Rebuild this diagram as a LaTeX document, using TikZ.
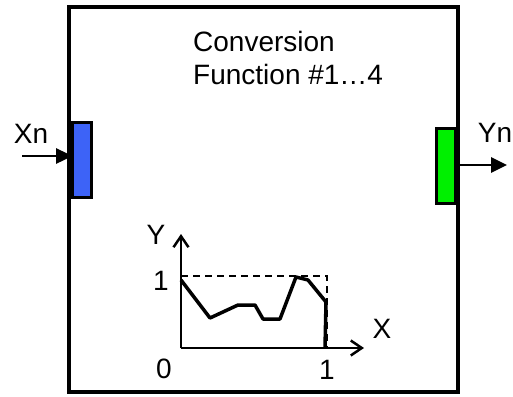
\documentclass[tikz,border=0pt]{standalone}
\usepackage{fontspec}
\setmainfont{Liberation Sans}
\usetikzlibrary{arrows.meta,positioning}
\definecolor{portblue}{HTML}{3D63F7}
\definecolor{portgreen}{HTML}{00F000}

\begin{document}
\begin{tikzpicture}[
  x=1pt,y=-1pt,
  font=\fontsize{28}{33}\selectfont,
  port/.style={draw,line width=3.3pt,minimum width=19pt,minimum height=75pt,inner sep=0pt,outer sep=0pt},
  arr/.style={-{Triangle[length=16pt,width=15pt]},line width=2.7pt},
  axis/.style={-{Straight Barb[length=11pt,width=15pt]},line width=2.5pt},
  lbl/.style={inner sep=0pt}
]
\useasboundingbox (0,0) rectangle (513,396);
\node[draw,line width=3.3pt,minimum width=389pt,minimum height=385pt,inner sep=0pt,outer sep=0pt] (block) at (263.5,199.5) {};
\node[lbl,align=left,anchor=north west] (title) at (193,31.5) {Conversion\\Function \#1\ldots4};
\node[port,fill=portblue] (inport) at (81.7,159.8) {};
\node[port,fill=portgreen] (outport) at (446.2,165.8) {};
\coordinate (xin) at (22,156);
\coordinate (yout) at (507,165);
\node[lbl] (xn) at (31,134) {Xn};
\node[lbl] (yn) at (495,133) {Yn};
\draw[arr] (xin) -- (xin -| inport.west);
\draw[arr] (outport.east |- yout) -- (yout);
% transfer curve
\coordinate (o) at (181,348);
\coordinate (ytip) at (181,234);
\coordinate (xtip) at (364,348);
\draw[axis] (o) -- (ytip);
\draw[axis] (o) -- (xtip);
\node[lbl] (ylab) at (156,235) {Y};
\node[lbl] (xlab) at (382,329) {X};
\node[lbl] (yone) at (161,281) {1};
\node[lbl] (zero) at (164,369) {0};
\node[lbl] (xone) at (327,370) {1};
\draw[dashed,dash pattern=on 7pt off 5pt,line width=1.5pt] (o |- 0,276) -- (327,276) -- (327,348);
\draw[line width=3.5pt,line join=round] (181,280) -- (210,318) -- (238,305) -- (255,305) -- (263,319)
  -- (280,319) -- (296,277) -- (308,280) -- (326,302) -- (325,348);
\end{tikzpicture}
\end{document}
